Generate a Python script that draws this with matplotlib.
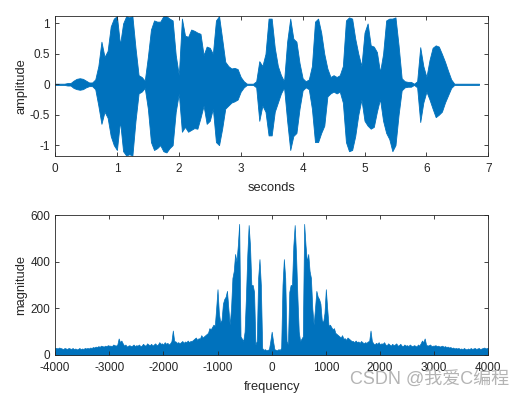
import numpy as np
import matplotlib
matplotlib.use('Agg')
import matplotlib.pyplot as plt

# waveform envelope, one max/min pair per 0.05 s bin
t_step = 0.05
wave_top = [0.01, 0.01, 0.01, 0.01, 0.02, 0.02, 0.06, 0.09, 0.10, 0.09,
            0.06, 0.03, 0.03, 0.08, 0.30, 0.70, 0.45, 0.55, 0.95, 1.08,
            1.12, 0.65, 1.00, 1.12, 1.10, 1.12, 0.60, 0.15, 0.12, 0.06,
            0.45, 0.90, 1.05, 1.03, 1.03, 1.12, 1.12, 1.08, 1.05, 0.48,
            0.15, 1.08, 0.80, 0.78, 0.90, 0.88, 0.85, 0.83, 0.48, 0.62,
            0.60, 0.50, 1.05, 1.12, 0.75, 0.37, 0.30, 0.26, 0.27, 0.25,
            0.12, 0.05, 0.01, 0.01, 0.01, 0.05, 0.38, 0.30, 0.50, 1.08,
            1.08, 0.60, 0.30, 0.15, 0.05, 0.70, 1.08, 0.75, 0.70, 0.35,
            0.10, 0.05, 0.08, 0.30, 1.03, 1.08, 0.85, 0.50, 0.26, 0.12,
            0.15, 0.12, 0.15, 0.30, 1.05, 1.10, 1.08, 0.75, 0.50, 0.30,
            0.85, 1.00, 0.64, 0.62, 0.53, 0.20, 0.50, 1.05, 1.08, 1.08,
            1.10, 0.64, 0.10, 0.05, 0.04, 0.04, 0.01, 0.05, 0.61, 0.30,
            0.12, 0.40, 0.60, 0.64, 0.62, 0.50, 0.37, 0.22, 0.08, 0.01,
            0.01, 0.01, 0.01, 0.01, 0.01, 0.01, 0.01, 0.01]
wave_bot = [-0.01, -0.01, -0.01, -0.01, -0.02, -0.02, -0.06, -0.08, -0.09, -0.08,
            -0.05, -0.03, -0.03, -0.08, -0.35, -0.65, -0.45, -0.55, -0.85, -1.00,
            -1.08, -0.60, -1.10, -1.17, -1.15, -1.17, -0.60, -0.15, -0.12, -0.06,
            -0.40, -0.95, -1.08, -1.05, -1.00, -1.10, -1.12, -1.05, -1.00, -0.45,
            -0.15, -0.78, -0.70, -0.78, -0.75, -0.72, -0.73, -0.55, -0.35, -0.65,
            -0.60, -0.40, -0.95, -1.00, -0.73, -0.40, -0.35, -0.30, -0.28, -0.25,
            -0.12, -0.05, -0.01, -0.01, -0.01, -0.05, -0.60, -0.35, -0.45, -0.84,
            -0.84, -0.45, -0.30, -0.15, -0.05, -0.60, -1.08, -0.85, -0.80, -0.40,
            -0.10, -0.05, -0.08, -0.40, -0.95, -0.95, -0.80, -0.68, -0.20, -0.15,
            -0.12, -0.15, -0.12, -0.30, -0.95, -1.10, -1.08, -0.85, -0.50, -0.25,
            -0.60, -0.68, -0.73, -0.70, -0.45, -0.24, -0.60, -0.80, -0.90, -1.10,
            -1.00, -0.50, -0.10, -0.05, -0.04, -0.04, -0.01, -0.05, -0.62, -0.30,
            -0.12, -0.25, -0.40, -0.54, -0.50, -0.45, -0.30, -0.18, -0.06, -0.01,
            -0.01, -0.01, -0.01, -0.01, -0.01, -0.01, -0.01, -0.01]

# spectrum magnitude for f >= 0, every 25 Hz (mirrored for negative f)
f_step = 25
spec_top = [100, 60, 25, 22, 20, 25, 22, 30, 300, 411,
            330, 60, 45, 270, 300, 300, 469, 557, 430, 250,
            100, 60, 70, 80, 562, 470, 400, 433, 360, 330,
            200, 130, 200, 275, 250, 240, 220, 150, 140, 180,
            282, 200, 125, 130, 120, 110, 115, 95, 90, 85,
            80, 75, 85, 70, 72, 65, 75, 70, 65, 60,
            60, 55, 62, 55, 58, 52, 60, 55, 50, 55,
            52, 58, 60, 105, 60, 50, 45, 52, 48, 55,
            45, 50, 48, 55, 45, 42, 50, 45, 40, 48,
            42, 45, 50, 40, 42, 48, 40, 38, 45, 40,
            42, 38, 45, 40, 38, 42, 40, 36, 45, 40,
            50, 62, 55, 71, 45, 40, 42, 45, 38, 40,
            40, 42, 38, 40, 36, 38, 40, 35, 38, 34,
            36, 32, 34, 30, 32, 28, 30, 28, 30, 26,
            28, 25, 30, 26, 24, 28, 25, 30, 26, 28,
            30, 26, 28, 30, 25, 28, 30, 32, 28, 30, 30]

blue = '#0072BD'
dark = '#262626'
plt.rcParams['font.family'] = ['Liberation Sans', 'DejaVu Sans']
plt.rcParams['axes.unicode_minus'] = False

t = np.arange(len(wave_top)) * t_step
f_pos = np.arange(len(spec_top)) * f_step
f = np.concatenate([-f_pos[::-1], f_pos[1:]])
mag = np.concatenate([spec_top[::-1], spec_top[1:]])

fig = plt.figure(figsize=(5.23, 3.97), dpi=100)
ax1 = fig.add_axes([0.1052, 0.6079, 0.8285, 0.3526])
ax2 = fig.add_axes([0.1052, 0.1058, 0.8285, 0.3526])

ax1.fill_between(t, wave_bot, wave_top, color=blue, linewidth=0.6)
ax1.set_xlim(0, 7)
ax1.set_ylim(-1.173, 1.128)
ax1.set_yticks([-1, -0.5, 0, 0.5, 1])
ax1.set_yticklabels(['-1', '-0.5', '0', '0.5', '1'])
ax1.set_xlabel('seconds', fontsize=9.3, color=dark, labelpad=5)
ax1.set_ylabel('amplitude', fontsize=9.3, color=dark, labelpad=2)

ax2.fill_between(f, 0, mag, color=blue, linewidth=0.5)
ax2.set_xlim(-4000, 4000)
ax2.set_ylim(0, 600)
ax2.set_xticks(range(-4000, 4001, 1000))
ax2.set_yticks([0, 200, 400, 600])
ax2.set_xlabel('frequency', fontsize=9.3, color=dark, labelpad=5)
ax2.set_ylabel('magnitude', fontsize=9.3, color=dark, labelpad=2)

for ax in (ax1, ax2):
    ax.tick_params(direction='in', top=True, right=True, length=3, width=0.6,
                   labelsize=8.5, colors=dark)
    ax.tick_params(axis='x', pad=5)
    ax.tick_params(axis='y', pad=3.5)
    for s in ax.spines.values():
        s.set_color(dark)
        s.set_linewidth(0.6)

fig.text(0.669, 0.045, 'CSDN @我爱C编程', fontsize=13, color='#b4b4b4',
         va='center', ha='left',
         family=['Liberation Sans', 'Noto Sans CJK SC'])

fig.savefig('out.png', dpi=100)
